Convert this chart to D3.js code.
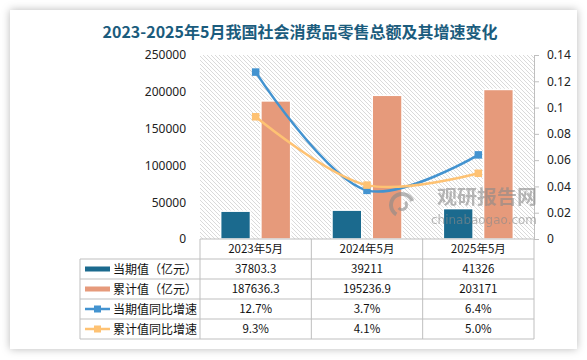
<!DOCTYPE html>
<html><head><meta charset="utf-8">
<script src="https://cdn.jsdelivr.net/npm/d3@7"></script>
<style>
html,body{margin:0;padding:0;background:#fff;}
svg{display:block;font-family:"Noto Sans CJK SC","Microsoft YaHei",sans-serif;}
</style></head>
<body>
<svg id="chart" width="587" height="360"></svg>
<script>
const title = "2023-2025年5月我国社会消费品零售总额及其增速变化";
const categories = ["2023年5月", "2024年5月", "2025年5月"];
const currentValues = [37803.3, 39211, 41326];
const cumulativeValues = [187636.3, 195236.9, 203171];
const currentGrowth = [0.127, 0.037, 0.064];
const cumulativeGrowth = [0.093, 0.041, 0.050];
const currentLabels = ["37803.3", "39211", "41326"];
const cumulativeLabels = ["187636.3", "195236.9", "203171"];
const currentGrowthLabels = ["12.7%", "3.7%", "6.4%"];
const cumulativeGrowthLabels = ["9.3%", "4.1%", "5.0%"];
const leftTicks = [0, 50000, 100000, 150000, 200000, 250000];
const rightTicks = [0, 0.02, 0.04, 0.06, 0.08, 0.1, 0.12, 0.14];
const seriesNames = ["当期值（亿元）", "累计值（亿元）", "当期值同比增速", "累计值同比增速"];
const colors = {bar1: "#1b6a8e", bar2: "#e69a7b", line1: "#4393d0", line2: "#fec273"};

const svg = d3.select("#chart");
const defs = svg.append("defs");
const f = defs.append("filter").attr("id", "sh").attr("x", "-10%").attr("y", "-10%").attr("width", "120%").attr("height", "120%");
f.append("feDropShadow").attr("dx", 0).attr("dy", 0).attr("stdDeviation", 4).attr("flood-color", "#000").attr("flood-opacity", 0.28);
const pat = defs.append("pattern").attr("id", "hatch").attr("patternUnits", "userSpaceOnUse").attr("width", 4).attr("height", 4);
pat.append("rect").attr("width", 4).attr("height", 4).attr("fill", "#fff");
pat.append("path").attr("d", "M-1,-1 L5,5 M3,-1 L5,1 M-1,3 L1,5").attr("stroke", "#d6d6d6").attr("stroke-width", 0.9);

// card
svg.append("rect").attr("x", 10).attr("y", 10).attr("width", 567).attr("height", 339).attr("fill", "#fff").attr("filter", "url(#sh)");

// title
svg.append("text").attr("x", 300).attr("y", 38).attr("text-anchor", "middle")
  .attr("font-size", 16).attr("font-weight", "bold").attr("fill", "#1b5c7d").text(title);

const plot = {left: 200, right: 534, top: 55, bottom: 239};
const x = d3.scaleBand().domain(categories).range([plot.left, plot.right]);
const yL = d3.scaleLinear().domain([0, 250000]).range([plot.bottom, plot.top]);
const yR = d3.scaleLinear().domain([0, 0.14]).range([plot.bottom, plot.top]);
const inner = d3.scaleBand().domain(["cur", "cum"]).range([-35, 35]).paddingInner(0.26);

svg.append("rect").attr("x", plot.left).attr("y", plot.top).attr("width", plot.right - plot.left).attr("height", plot.bottom - plot.top).attr("fill", "url(#hatch)");

// left axis labels
const gL = svg.append("g").attr("transform", `translate(${plot.left},0)`)
  .call(d3.axisLeft(yL).tickValues(leftTicks).tickSize(0).tickPadding(14).tickFormat(d3.format("d")));
gL.select(".domain").remove();
gL.selectAll("text").attr("font-size", 12).attr("fill", "#222").attr("font-family", "Noto Sans, sans-serif");

// right axis
const gR = svg.append("g").attr("transform", `translate(${plot.right},0)`)
  .call(d3.axisRight(yR).tickValues(rightTicks).tickSize(5).tickPadding(8).tickFormat(d => d3.format("")(+d.toFixed(2))));
gR.select(".domain").attr("stroke", "#bfbfbf");
gR.selectAll("line").attr("stroke", "#bfbfbf");
gR.selectAll("text").attr("font-size", 12).attr("fill", "#222").attr("font-family", "Noto Sans, sans-serif");

// bars
const barG = svg.append("g");
categories.forEach((c, i) => {
  const cx = x(c) + x.bandwidth() / 2;
  barG.append("rect").attr("x", cx + inner("cur")).attr("y", yL(currentValues[i]))
    .attr("width", inner.bandwidth()).attr("height", yL(0) - yL(currentValues[i]))
    .attr("fill", colors.bar1).attr("stroke", "#fff").attr("stroke-width", 1.5);
  barG.append("rect").attr("x", cx + inner("cum")).attr("y", yL(cumulativeValues[i]))
    .attr("width", inner.bandwidth()).attr("height", yL(0) - yL(cumulativeValues[i]))
    .attr("fill", colors.bar2).attr("stroke", "#fff").attr("stroke-width", 1.5);
});

// x axis line
svg.append("line").attr("x1", plot.left).attr("x2", plot.right).attr("y1", plot.bottom).attr("y2", plot.bottom).attr("stroke", "#bfbfbf");

// lines
const lineGen = d3.line().x((d, i) => x(categories[i]) + x.bandwidth() / 2).y(d => yR(d)).curve(d3.curveCatmullRom.alpha(0.5));
[[currentGrowth, colors.line1], [cumulativeGrowth, colors.line2]].forEach(([data, col]) => {
  svg.append("path").attr("d", lineGen(data)).attr("fill", "none").attr("stroke", col).attr("stroke-width", 2.5);
  svg.append("g").selectAll("rect").data(data).join("rect")
    .attr("x", (d, i) => x(categories[i]) + x.bandwidth() / 2 - 3.75).attr("y", d => yR(d) - 3.75)
    .attr("width", 7.5).attr("height", 7.5).attr("fill", col);
});

// data table
const tbl = svg.append("g");
const rowTop = 259, rowH = 20, legLeft = 80;
const gridCol = "#bfbfbf";
for (let r = 0; r <= 4; r++) {
  tbl.append("line").attr("x1", legLeft).attr("x2", plot.right).attr("y1", rowTop + r * rowH).attr("y2", rowTop + r * rowH).attr("stroke", gridCol);
}
tbl.append("line").attr("x1", legLeft).attr("x2", legLeft).attr("y1", rowTop).attr("y2", rowTop + 4 * rowH).attr("stroke", gridCol);
const bounds = categories.map(c => x(c)).concat([plot.right]);
bounds.forEach(bx => {
  tbl.append("line").attr("x1", bx).attr("x2", bx).attr("y1", plot.bottom).attr("y2", rowTop + 4 * rowH).attr("stroke", gridCol);
});
categories.forEach(c => {
  tbl.append("text").attr("x", x(c) + x.bandwidth() / 2).attr("y", 253).attr("text-anchor", "middle")
    .attr("font-size", 11.5).attr("fill", "#111").text(c);
});
const rows = [currentLabels, cumulativeLabels, currentGrowthLabels, cumulativeGrowthLabels];
rows.forEach((vals, r) => {
  vals.forEach((v, i) => {
    tbl.append("text").attr("x", x(categories[i]) + x.bandwidth() / 2).attr("y", rowTop + r * rowH + 14)
      .attr("text-anchor", "middle").attr("font-size", 11.5).attr("fill", "#111").text(v);
  });
});
// legend entries
const legCols = [colors.bar1, colors.bar2, colors.line1, colors.line2];
seriesNames.forEach((name, r) => {
  const cy = rowTop + r * rowH + 10;
  if (r < 2) {
    tbl.append("rect").attr("x", 85).attr("y", cy - 2.5).attr("width", 25).attr("height", 5).attr("fill", legCols[r]);
  } else {
    tbl.append("line").attr("x1", 85).attr("x2", 110).attr("y1", cy).attr("y2", cy).attr("stroke", legCols[r]).attr("stroke-width", 2.5);
    tbl.append("rect").attr("x", 94).attr("y", cy - 3.5).attr("width", 7).attr("height", 7).attr("fill", legCols[r]);
  }
  tbl.append("text").attr("x", 113).attr("y", cy + 4.5).attr("font-size", 12).attr("fill", "#111").text(name);
});

// watermark
const wm = svg.append("g").attr("opacity", 0.6).attr("fill", "#8a8a8a");
wm.append("path").attr("d", d3.arc()({innerRadius: 9, outerRadius: 13, startAngle: -2.6, endAngle: 1.2})).attr("transform", "translate(402,205)");
wm.append("path").attr("d", d3.arc()({innerRadius: 3, outerRadius: 6, startAngle: 0.8, endAngle: 4.0})).attr("transform", "translate(402,205)");
wm.append("text").attr("x", 437).attr("y", 204).attr("font-size", 19).attr("font-weight", "bold")
  .attr("textLength", 100).attr("lengthAdjust", "spacingAndGlyphs").text("观研报告网");
wm.append("text").attr("x", 431).attr("y", 224).attr("font-size", 12).attr("font-family", "DejaVu Sans, sans-serif")
  .attr("textLength", 106).attr("lengthAdjust", "spacingAndGlyphs").text("chinabaogao.com");
</script>
</body></html>
